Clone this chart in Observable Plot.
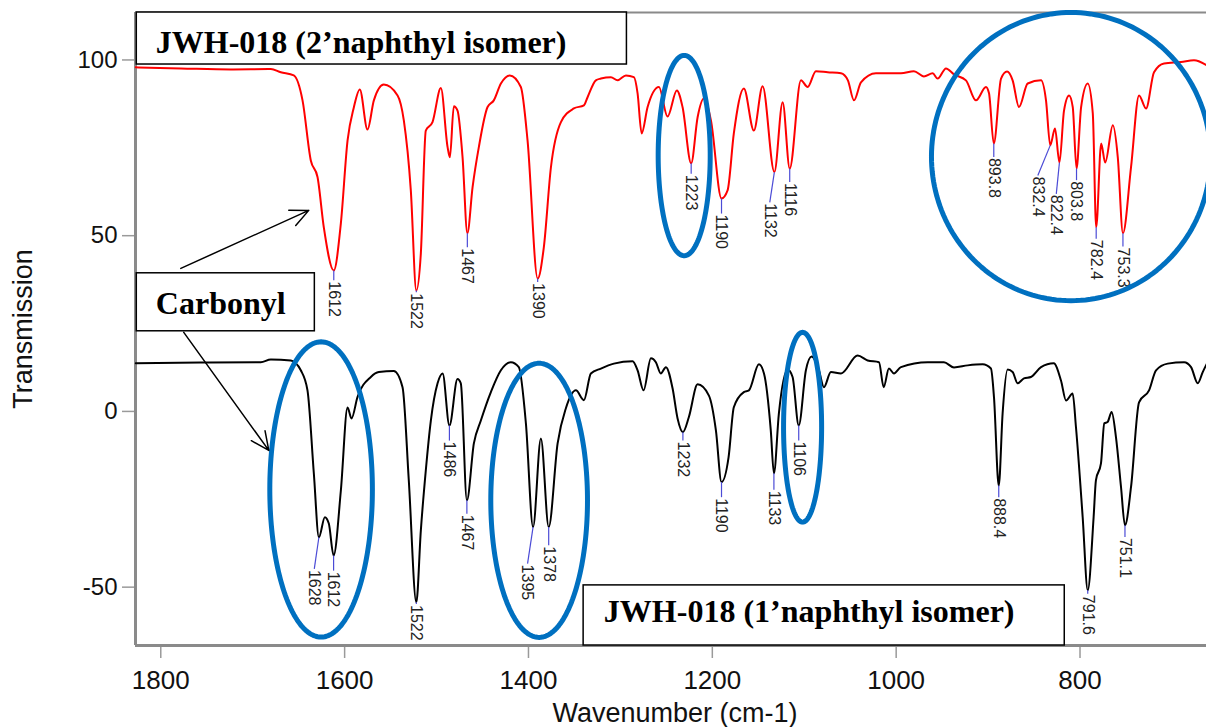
<!DOCTYPE html>
<html><head><meta charset="utf-8">
<script src="https://cdn.jsdelivr.net/npm/d3@7"></script>
<script src="https://cdn.jsdelivr.net/npm/@observablehq/plot@0.6"></script>
<style>html,body{margin:0;padding:0;background:#fff;} #chart{width:1206px;height:727px;overflow:hidden}</style>
</head><body><div id="chart"></div>
<script>
// ---- Spectrum: JWH-018 (2'naphthyl isomer), red ----
const redWn = [1827.2,1778.2,1723.8,1680.3,1669.4,1655.3,1645.8,1636.8,1629.5,1622.6,
  1611.8,1604.1,1596.8,1590.0,1583.5,1575.1,1568.2,1557.4,1542.4,1535.6,
  1528.0,1522.0,1517.1,1511.7,1504.4,1495.3,1488.0,1485.5,1481.2,1477.2,
  1471.7,1466.5,1460.8,1454.0,1444.5,1437.7,1430.0,1420.3,1408.3,1401.0,
  1390.0,1383.3,1375.6,1364.7,1350.6,1339.7,1335.7,1326.7,1321.2,1310.3,
  1303.1,1294.0,1285.3,1281.3,1276.9,1270.4,1258.1,1248.7,1238.6,1232.4,
  1223.0,1216.0,1209.2,1201.5,1190.0,1183.4,1176.6,1165.7,1154.8,1145.3,
  1132.5,1123.5,1115.8,1103.6,1096.3,1087.3,1074.5,1060.0,1052.5,1045.9,
  1038.3,1022.0,994.8,980.7,969.8,960.3,954.9,945.8,937.1,924.1,
  913.2,902.3,899.0,893.8,885.9,879.4,873.3,866.4,856.9,842.4,
  837.0,832.4,827.2,822.4,817.4,811.9,807.9,803.8,798.8,791.6,
  786.1,782.4,777.0,772.6,764.3,758.9,753.3,744.5,735.8,728.2,
  719.5,708.6,690.1,676.0,661.8];
const redT = [97.9,97.6,97.3,97.4,96.5,95.6,88.5,71.4,66.7,52.3,
  40.1,53.5,77.1,86.5,91.6,80.2,88.5,93.0,89.9,82.8,
  62.9,34.4,44.9,79.9,82.3,92.0,75.2,72.3,86.8,85.6,
  72.3,50.7,63.8,75.2,86.6,88.5,93.3,95.6,92.3,77.1,
  37.8,46.7,69.4,82.3,86.2,87.1,89.4,94.2,94.7,95.1,
  94.2,95.6,95.1,90.5,79.1,86.6,92.3,83.9,91.3,86.6,
  70.6,83.7,89.0,82.8,60.6,62.9,79.1,91.9,79.9,92.5,
  68.1,88.0,69.1,94.2,92.3,96.8,96.5,96.2,94.2,88.5,
  93.6,96.2,96.2,96.8,95.3,96.2,94.7,97.6,95.9,94.2,
  88.5,92.3,90.5,76.2,94.7,96.7,94.2,86.6,93.3,94.2,
  88.5,75.7,80.5,70.8,85.6,89.9,86.6,69.1,86.6,93.3,
  84.8,52.4,76.2,70.8,81.4,72.3,50.7,69.5,89.9,86.2,
  96.5,99.0,99.4,99.9,98.4];

// ---- Spectrum: JWH-018 (1'naphthyl isomer), black ----
const blackWn = [1827.2,1756.5,1691.2,1680.3,1658.5,1647.7,1640.4,1633.5,1628.0,1621.5,
  1617.2,1612.0,1604.1,1596.8,1592.5,1586.0,1571.5,1562.8,1546.5,1537.0,
  1530.2,1522.0,1517.1,1511.7,1506.2,1498.9,1493.4,1486.0,1477.2,1473.6,
  1467.0,1459.4,1451.8,1440.9,1430.0,1419.2,1410.5,1402.8,1395.0,1386.5,
  1378.0,1368.3,1359.3,1348.4,1339.7,1332.1,1321.2,1307.1,1286.7,1281.3,
  1274.8,1266.8,1261.4,1256.0,1250.5,1243.2,1237.8,1232.0,1225.5,1216.0,
  1203.7,1196.1,1190.0,1182.3,1176.6,1165.7,1160.2,1149.3,1143.8,1136.4,
  1133.0,1127.6,1118.1,1112.7,1106.0,1098.2,1092.0,1084.0,1078.6,1071.0,
  1060.0,1041.9,1031.0,1018.7,1013.6,1007.9,1002.4,994.8,965.7,948.0,
  937.1,922.2,905.9,896.9,893.6,888.4,884.2,878.8,873.3,867.9,
  861.0,853.4,842.4,828.6,820.7,815.2,808.0,804.4,797.1,791.6,
  785.2,782.7,777.2,773.6,770.0,765.6,760.9,755.4,751.1,744.5,
  735.8,724.9,717.3,704.6,686.8,679.2,671.9,666.5,661.8];
const blackT = [13.7,13.9,14.0,14.8,14.5,11.7,6.0,-17.6,-35.8,-30.1,
  -31.9,-41.0,-22.5,1.1,-2.0,4.1,9.8,11.2,11.5,6.9,
  -19.6,-54.3,-33.9,-16.8,-2.6,8.0,10.8,-4.0,9.2,8.0,
  -25.3,-9.1,-2.6,5.5,11.7,14.0,12.6,-3.4,-32.9,-7.7,
  -32.9,-9.1,0.9,6.0,3.2,10.8,12.2,13.6,14.3,11.7,
  6.0,15.1,14.0,10.8,12.6,6.5,-2.0,-5.9,-1.6,7.7,
  4.5,-5.4,-20.1,-13.0,1.2,5.5,6.0,13.4,10.8,-5.4,
  -17.6,-0.6,11.9,9.8,-4.0,11.7,15.6,11.7,6.9,11.2,
  10.8,15.9,14.5,14.0,6.9,12.2,10.8,12.6,14.0,14.0,
  12.5,13.1,13.4,12.2,4.1,-21.1,-0.6,11.9,11.2,8.0,
  9.4,9.8,12.6,13.7,8.8,3.1,5.1,-4.5,-30.1,-50.9,
  -30.1,-19.6,-14.8,-3.4,-3.0,-0.2,-7.3,-21.5,-32.4,-21.5,
  2.6,6.0,11.7,13.6,14.0,12.6,8.0,11.2,13.7];

// ---- Peak labels ----
const redPeakText = ["1612","1522","1467","1390","1223","1190","1132","1116","893.8","832.4","822.4","803.8","782.4","753.3"];
const redPeakWn   = [1611.8,1522.0,1466.5,1390.0,1223.0,1190.0,1132.5,1115.8,893.8,832.4,822.4,803.8,782.4,753.3];
const redPeakT    = [40.1,34.4,50.7,37.8,70.6,60.6,68.1,69.1,76.2,75.7,70.8,69.1,52.4,50.7];
const redLeader   = [[0,2.8],[0,0.5],[0,4],[0,1],[0,3],[0,4.3],[5,8.6],[0,3.8],[0,3.8],[13.5,8.6],[3.4,8.9],[0,3.3],[0,3.3],[0,3.8]];

const blackPeakText = ["1628","1612","1522","1486","1467","1395","1378","1232","1190","1133","1106","888.4","791.6","751.1"];
const blackPeakWn   = [1628.0,1612.0,1522.0,1486.0,1467.0,1395.0,1378.0,1232.0,1190.0,1133.0,1106.0,888.4,791.6,751.1];
const blackPeakT    = [-35.8,-41.0,-54.3,-4.0,-25.3,-32.9,-32.9,-5.9,-20.1,-17.6,-4.0,-21.1,-50.9,-32.4];
const blackLeader   = [[5,9],[0,4.3],[0,0.5],[0,4.3],[0,3.8],[6,10.4],[0,5.2],[0,2.4],[0,4.3],[0,4.7],[0,4.3],[0,3.3],[0,1],[0,3.3]];

// ---- Axes ----
const xTicks = [1800,1600,1400,1200,1000,800];
const yTicks = [100,50,0,-50];
const xDomain = [1827.5, 662.4];
const yDomain = [-66.6, 113.5];

// ---- Annotations (data coordinates) ----
const boxLabels = ["JWH-018 (2\u2019naphthyl isomer)", "Carbonyl", "JWH-018 (1\u2019naphthyl isomer)"];
const boxX1 = [1826.1, 1826.1, 1340.0];
const boxX2 = [1292.9, 1632.4, 816.6];
const boxY1 = [113.5, 39.3, -49.5];
const boxY2 = [98.7, 22.8, -66.6];
const boxTextX = [1805.4, 1805.4, 1318.0];
const boxTextY = [102.1, 27.8, -60.0];

const arrowFrom = [[1778.2, 40.7],[1775.0, 22.5]];
const arrowTo   = [[1639.0, 57.2],[1682.5, -11.1]];

const ellipseCx = [1230.6, 809.8, 1625.6, 1388.4, 1101.8];
const ellipseCy = [72.8, 72.5, -22.2, -25.3, -4.5];
const ellipseRx = [28.3, 151.8, 55.8, 52.6, 20.7];
const ellipseRy = [28.5, 41.0, 42.0, 39.0, 27.0];

// ---- Build tables ----
const red = redWn.map((w,i)=>({wn:w, t:redT[i]}));
const black = blackWn.map((w,i)=>({wn:w, t:blackT[i]}));
const peaks = [
  ...redPeakText.map((s,i)=>({text:s, wn:redPeakWn[i], t:redPeakT[i], lx:redPeakWn[i]+redLeader[i][0], ly:redPeakT[i]-redLeader[i][1]})),
  ...blackPeakText.map((s,i)=>({text:s, wn:blackPeakWn[i], t:blackPeakT[i], lx:blackPeakWn[i]+blackLeader[i][0], ly:blackPeakT[i]-blackLeader[i][1]}))
];
const boxes = boxLabels.map((s,i)=>({text:s, x1:boxX1[i], x2:boxX2[i], y1:boxY1[i], y2:boxY2[i], tx:boxTextX[i], ty:boxTextY[i]}));
const arrows = arrowFrom.map((f,i)=>({x1:f[0], y1:f[1], x2:arrowTo[i][0], y2:arrowTo[i][1]}));
const ellPts = ellipseCx.flatMap((cx,k)=> d3.range(0,361,2).map(a=>({k, wn: cx + ellipseRx[k]*Math.cos(a*Math.PI/180), t: ellipseCy[k] + ellipseRy[k]*Math.sin(a*Math.PI/180)})));

const sans = "Liberation Sans, Arial, sans-serif";
const serif = "Liberation Serif, Times New Roman, serif";

const plot = Plot.plot({
  width: 1206, height: 727,
  marginLeft: 135, marginRight: 0, marginTop: 12, marginBottom: 82,
  x: {domain: xDomain},
  y: {domain: yDomain},
  style: {fontFamily: sans, background: "white", color: "#111"},
  marks: [
    Plot.axisX(xTicks, {anchor: "bottom", tickSize: 13, tickPadding: 12, fontSize: 26, tickFormat: d => String(d), stroke: "#9a9a9a", strokeWidth: 1.5, label: null}),
    Plot.axisY(yTicks, {anchor: "left", tickSize: 13, tickPadding: 5, fontSize: 24, tickFormat: d => String(d), stroke: "#9a9a9a", strokeWidth: 1.5, label: null}),
    Plot.ruleX([xDomain[0]], {stroke: "#8a8a8a", strokeWidth: 3}),
    Plot.ruleY([yDomain[0]], {stroke: "#8a8a8a", strokeWidth: 3}),
    Plot.ruleY([yDomain[1]], {stroke: "#8a8a8a", strokeWidth: 2}),
    Plot.text(["Wavenumber (cm-1)"], {text: d=>d, frameAnchor: "bottom", dy: 68, dx: 4, fontSize: 27, textAnchor: "middle", lineAnchor: "middle", fill: "#111"}),
    Plot.text(["Transmission"], {text: d=>d, frameAnchor: "left", dx: -112, rotate: -90, fontSize: 27, textAnchor: "middle", lineAnchor: "middle", fill: "#111"}),
    Plot.line(red, {x: "wn", y: "t", stroke: "#ff0000", strokeWidth: 2, curve: "monotone-x"}),
    Plot.line(black, {x: "wn", y: "t", stroke: "#000000", strokeWidth: 2, curve: "monotone-x"}),
    Plot.link(peaks, {x1: "wn", y1: "t", x2: "lx", y2: "ly", stroke: "#4b4bd6", strokeWidth: 1.2}),
    Plot.text(peaks, {x: "lx", y: "ly", text: "text", rotate: 90, textAnchor: "start", lineAnchor: "middle", fontSize: 16, fill: "#222", dy: 1}),
    Plot.line(ellPts, {x: "wn", y: "t", z: "k", stroke: "#0070C0", strokeWidth: 5}),
    Plot.arrow(arrows, {x1: "x1", y1: "y1", x2: "x2", y2: "y2", stroke: "black", strokeWidth: 1.5, headLength: 20, headAngle: 50}),
    Plot.rect(boxes, {x1: "x1", x2: "x2", y1: "y1", y2: "y2", fill: "white", stroke: "black", strokeWidth: 1.5}),
    Plot.text(boxes, {x: "tx", y: "ty", text: "text", textAnchor: "start", lineAnchor: "bottom", fontFamily: serif, fontWeight: "bold", fontSize: 32, fill: "black"})
  ]
});
document.getElementById("chart").appendChild(plot);
</script>
</body></html>
